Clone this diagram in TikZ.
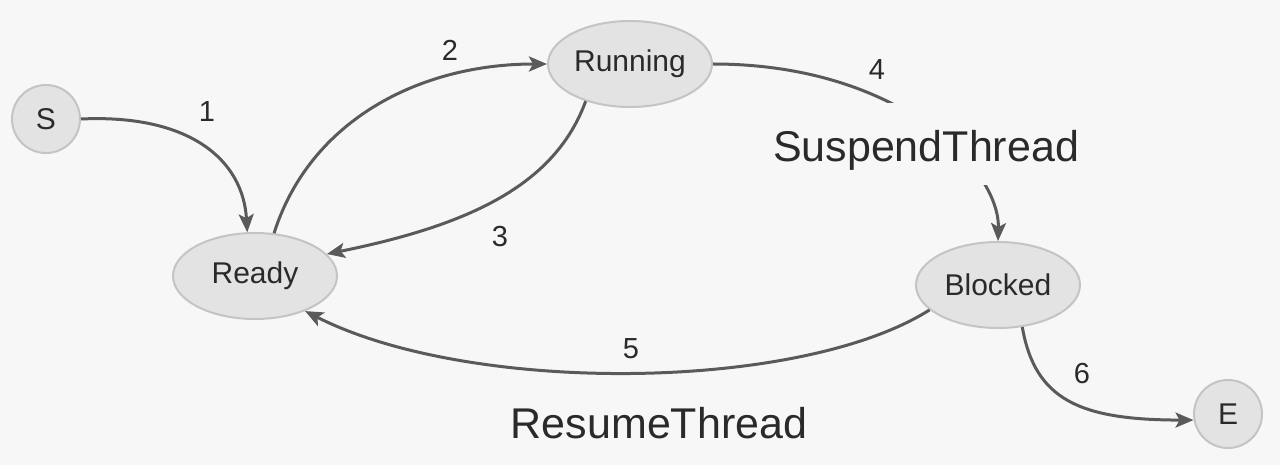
\documentclass[tikz,border=0pt]{standalone}
\usepackage{fontspec}
\setmainfont{Liberation Sans}
\usetikzlibrary{arrows.meta,shapes.geometric}
\definecolor{bg}{HTML}{F7F7F7}
\definecolor{nodefill}{HTML}{E3E3E3}
\definecolor{nodeline}{HTML}{C4C4C4}
\definecolor{edgecol}{HTML}{5A5A5A}
\definecolor{txt}{HTML}{2A2A2A}
\tikzset{
  statebox/.style={ellipse, fill=nodefill, draw=nodeline, line width=2pt,
    minimum width=164pt, minimum height=86pt, inner sep=0pt,
    text=txt, font=\fontsize{30}{34}\selectfont},
  termbox/.style={circle, fill=nodefill, draw=nodeline, line width=2pt,
    minimum size=68pt, inner sep=0pt, text=txt, font=\fontsize{30}{34}\selectfont},
  edge/.style={draw=edgecol, line width=3pt,
    -{Stealth[length=18pt,width=15pt,inset=4pt]}},
  plainedge/.style={draw=edgecol, line width=3pt},
  num/.style={text=txt, font=\fontsize{29}{33}\selectfont, inner sep=0pt},
  biglabel/.style={text=txt, font=\fontsize{43}{48}\selectfont, inner sep=0pt}
}
\begin{document}
\begin{tikzpicture}[x=1pt,y=-1pt]
\fill[bg] (0,0) rectangle (1280,465);
\useasboundingbox (0,0) rectangle (1280,465);

\node[termbox] (S) at (46,119) {S};
\node[statebox] (Ready) at (255,276) {Ready};
\node[statebox] (Running) at (630,64) {Running};
\node[statebox] (Blocked) at (998,285) {Blocked};
\node[termbox] (E) at (1228,414) {E};

% 1
\draw[edge] (S.east) .. controls (190,114) and (243,160) .. (Ready.100);
% 2
\draw[edge] (Ready.66) .. controls (310,120) and (420,64) .. (Running.west);
% 3
\draw[edge] (Running.220) .. controls (555,185) and (470,225) .. (Ready.17);
% 4
\draw[edge] (Running.east) .. controls (900,64) and (1000,170) .. (Blocked.north);
% 5
\draw[edge] (Blocked.200) .. controls (800,392) and (470,395) .. (Ready.-35);
% 6
\draw[edge] (Blocked.-60) .. controls (1035,400) and (1080,420) .. (E.190);

\node[biglabel, fill=bg, anchor=base, text height=59pt, text depth=23pt] (susp) at (926,162) {SuspendThread};
\node[biglabel] (resume) at (659,423) {ResumeThread};

\node[num] (n1) at (207,112) {1};
\node[num] (n2) at (450,50) {2};
\node[num] (n3) at (500,237) {3};
\node[num] (n4) at (877,70) {4};
\node[num] (n5) at (631,349) {5};
\node[num] (n6) at (1082,374) {6};
\end{tikzpicture}
\end{document}
